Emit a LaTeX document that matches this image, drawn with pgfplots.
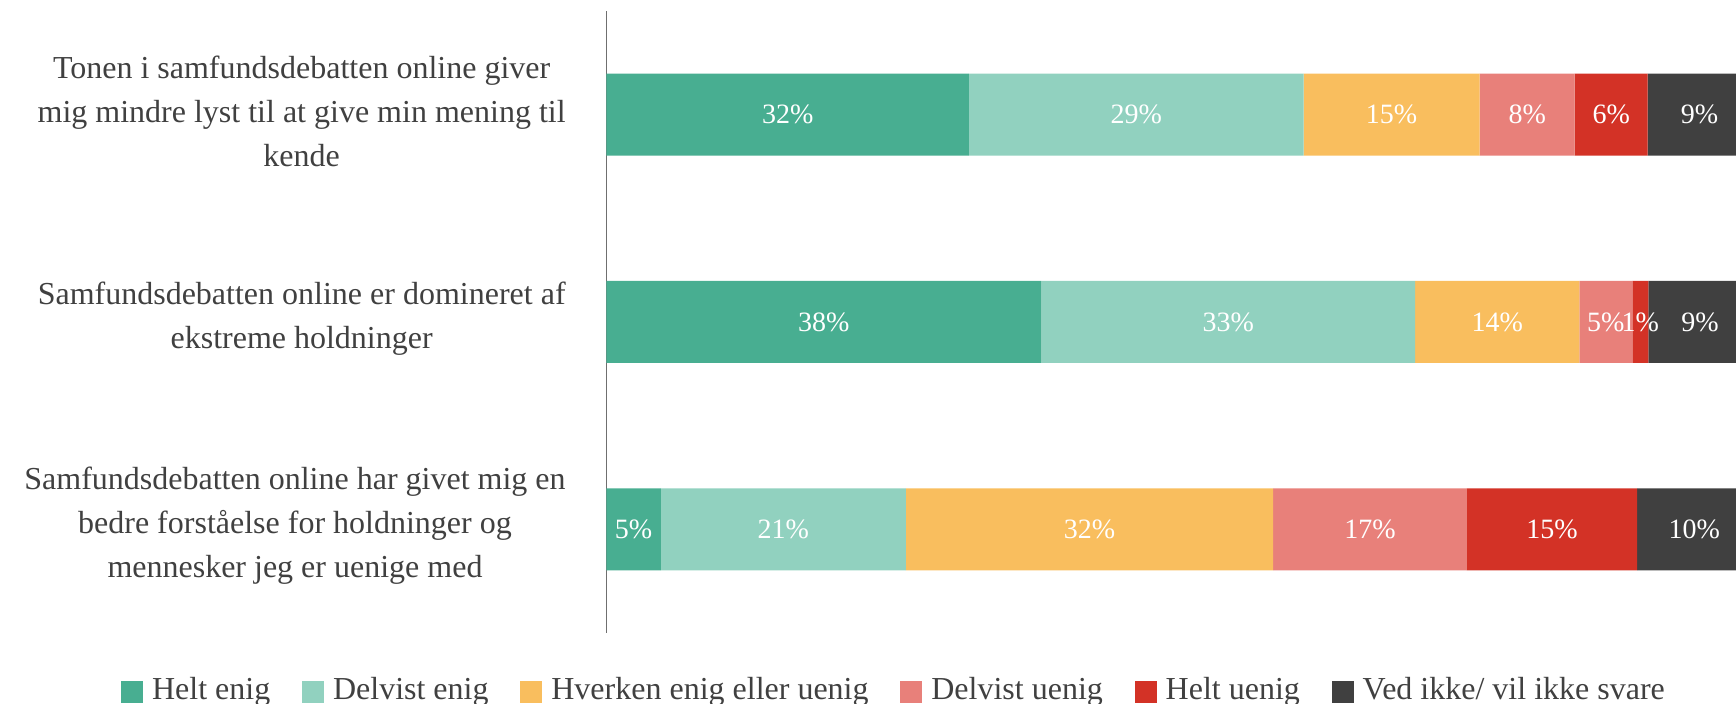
\documentclass[border=0pt]{standalone}
\usepackage{fontspec}
\setmainfont{Liberation Serif}
\usepackage{pgfplots}
\pgfplotsset{compat=1.18}
\usepackage{pgfplotstable}
\definecolor{c1}{HTML}{48AE91}
\definecolor{c2}{HTML}{91D1BF}
\definecolor{c3}{HTML}{F9BE5E}
\definecolor{c4}{HTML}{E8807A}
\definecolor{c5}{HTML}{D33226}
\definecolor{c6}{HTML}{404040}
\definecolor{txt}{HTML}{404040}
\definecolor{axl}{HTML}{6F6F6F}

\pgfplotstableread{
y helt delvist hverken duenig huenig vedikke
0 4.74 21.40 32.08 16.93 14.86 9.99
1 37.97 32.66 14.33 4.63 1.40 9.01
2 31.65 29.23 15.38 8.30 6.37 9.07
}\data

\pgfplotstableread{
x y lab
15.825 2 32
46.265 2 29
68.570 2 15
80.410 2 8
87.745 2 6
95.465 2 9
18.985 1 38
54.300 1 33
77.795 1 14
87.275 1 5
90.290 1 1
95.495 1 9
2.370 0 5
15.440 0 21
42.180 0 32
66.685 0 17
82.580 0 15
95.005 0 10
}\labels

\begin{document}
\begin{tikzpicture}
\useasboundingbox (0,0) rectangle (868pt,352pt);
\pgfplotsset{common/.style={scale only axis, width=572.5pt, height=311pt,
  at={(303.25pt,35.5pt)}, anchor=south west,
  xmin=0, xmax=100, ymin=-0.5, ymax=2.5, enlargelimits=false}}
\begin{axis}[common,
  xbar stacked, bar width=41pt,
  axis x line=none, axis y line*=left,
  axis line style={draw=axl, line width=0.6pt},
  xtick=\empty,
  ytick={0,1,2},
  yticklabels={{Samfundsdebatten online har givet mig en\\bedre forståelse for holdninger og\\mennesker jeg er uenige med},
               {Samfundsdebatten online er domineret af\\ekstreme holdninger},
               {Tonen i samfundsdebatten online giver\\mig mindre lyst til at give min mening til\\kende}},
  major tick length=0pt,
  ytick style={draw=none},
  yticklabel style={align=center, anchor=east, inner sep=0pt, xshift=-20.25pt, yshift=1.7pt,
    font=\fontsize{16}{22}\selectfont, text=txt},
  every axis plot/.append style={draw=none,
    legend image code/.code={\fill[##1] (0pt,-6.5pt) rectangle (11pt,4.5pt);}},
  legend columns=6,
  legend cell align=left,
  legend style={draw=none, fill=none, at={(-0.4243,-0.0925)}, anchor=west,
    inner sep=0pt, font=\fontsize{16}{18}\selectfont, text=txt,
    nodes={inner sep=0pt},
    /tikz/every odd column/.append style={column sep=4.5pt},
    /tikz/every even column/.append style={column sep=15.9pt}},
]
\addplot[fill=c1] table[x=helt, y=y] {\data};
\addplot[fill=c2] table[x=delvist, y=y] {\data};
\addplot[fill=c3] table[x=hverken, y=y] {\data};
\addplot[fill=c4] table[x=duenig, y=y] {\data};
\addplot[fill=c5] table[x=huenig, y=y] {\data};
\addplot[fill=c6] table[x=vedikke, y=y] {\data};
\legend{Helt enig, Delvist enig, Hverken enig eller uenig, Delvist uenig, Helt uenig, Ved ikke/ vil ikke svare}
\end{axis}
\begin{axis}[common, hide axis]
\addplot[draw=none, mark=none, nodes near coords={\pgfplotspointmeta\%},
  point meta=explicit symbolic, nodes near coords align=center,
  every node near coord/.append style={text=white, inner sep=0pt,
    font=\fontsize{14}{16}\selectfont}]
  table[x=x, y=y, meta=lab] {\labels};
\end{axis}
\end{tikzpicture}
\end{document}
